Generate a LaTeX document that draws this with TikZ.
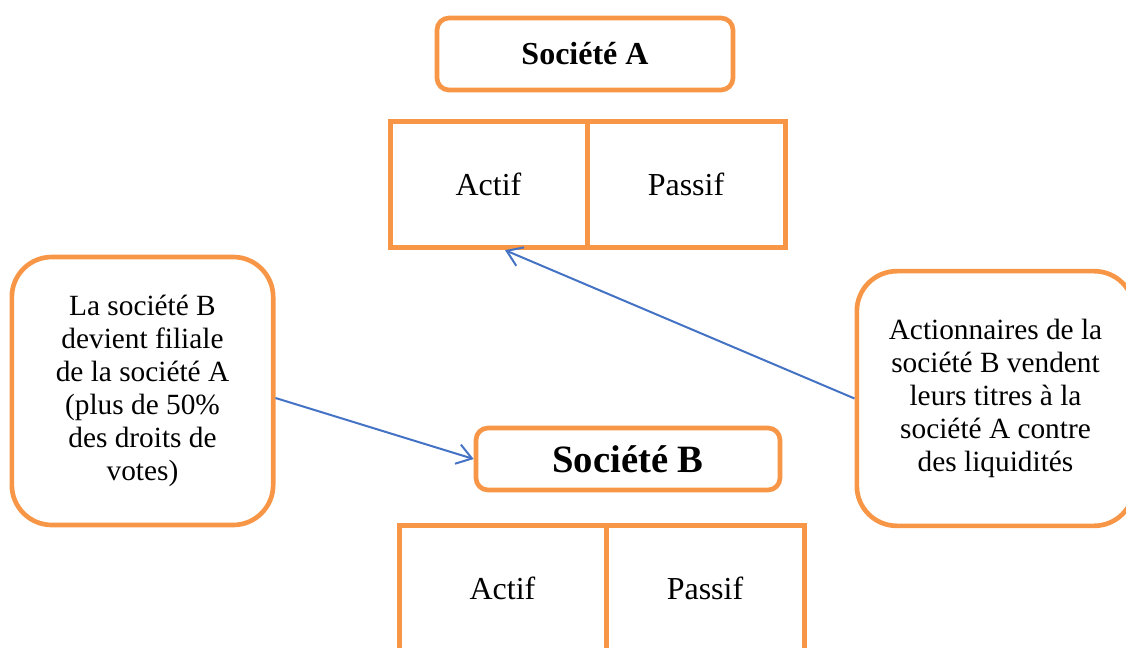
\documentclass[tikz,border=0pt]{standalone}
\usepackage{fontspec}
\setmainfont{Liberation Serif}
\usetikzlibrary{arrows.meta,positioning}
\definecolor{boxorange}{RGB}{247,150,70}
\definecolor{linkblue}{RGB}{68,114,196}

\begin{document}
\begin{tikzpicture}[x=0.75pt, y=-0.75pt, >={Straight Barb[length=11pt,width=15pt]},
    cell/.style={rectangle, draw=boxorange, line width=3.75pt, outer sep=0pt, minimum height=94pt, font=\fontsize{24}{28}\selectfont},
    titlebox/.style={rectangle, rounded corners=9pt, draw=boxorange, line width=3.5pt, font=\bfseries\fontsize{24}{28}\selectfont},
    textbox/.style={rectangle, rounded corners=30pt, draw=boxorange, line width=3.5pt, align=center, font=\fontsize{22}{24.75}\selectfont},
    link/.style={->, draw=linkblue, line width=1.5pt}]
    \useasboundingbox (0,0) rectangle (1126,648);
    \clip (0,0) rectangle (1126,648);
    \node (SocA) [titlebox, minimum width=222pt, minimum height=54pt] at (585,54) {Société A};
    \node (ActifA) [cell, minimum width=147.75pt] at (488.5,184.5) {Actif};
    \node (PassifA) [cell, minimum width=148.5pt, right=0pt of ActifA] {Passif};
    \node (Filiale) [textbox, minimum width=196pt, minimum height=201pt] at (142.5,391) {La société B\\ devient filiale\\ de la société A\\ (plus de 50\%\\ des droits de\\ votes)};
    \node (Vente) [textbox, minimum width=208pt, minimum height=191pt] at (995.5,398.5) {Actionnaires de la\\ société B vendent\\ leurs titres à la\\ société A contre\\ des liquidités};
    \node (SocB) [titlebox, minimum width=228pt, minimum height=46.5pt, font=\bfseries\fontsize{29}{32}\selectfont] at (628,459) {Société B};
    \node (ActifB) [cell, minimum width=155.25pt] at (502.5,588.5) {Actif};
    \node (PassifB) [cell, minimum width=148.5pt, right=0pt of ActifB] {Passif};
    
    \draw[link] ([yshift=-5.25pt]Filiale.east) -- (SocB.west);
    \draw[link] (Vente.west) -- ([xshift=12.4pt,yshift=-2.25pt]ActifA.south);
\end{tikzpicture}
\end{document}
